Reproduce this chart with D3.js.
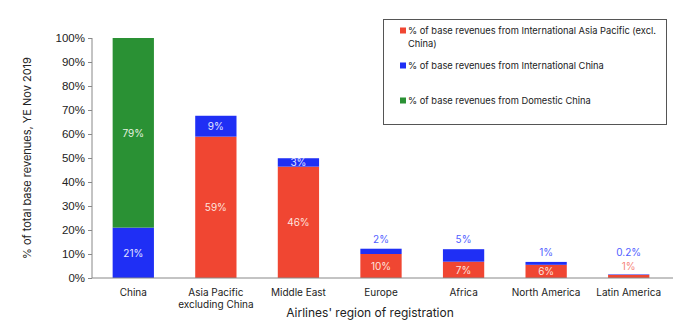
<!DOCTYPE html>
<html><head><meta charset="utf-8">
<script src="https://cdn.jsdelivr.net/npm/d3@7"></script>
<style>body{margin:0;background:#fff}svg{font-family:Inter,"Noto Sans",sans-serif}</style>
</head><body><svg id="c" width="680" height="323"></svg>
<script>
const categories = ["China", "Asia Pacific|excluding China", "Middle East", "Europe", "Africa", "North America", "Latin America"];
const intlAsiaPacific = [0, 58.9, 46.4, 10, 6.8, 5.5, 1.3];
const intlChina = [21, 8.7, 3.5, 2.2, 5.2, 1.2, 0.2];
const domesticChina = [79, 0, 0, 0, 0, 0, 0];
const labelsAP = ["", "59%", "46%", "10%", "7%", "6%", "1%"];
const labelsIC = ["21%", "9%", "3%", "2%", "5%", "1%", "0.2%"];
const labelsDC = ["79%", "", "", "", "", "", ""];
const yTicks = [0,10,20,30,40,50,60,70,80,90,100];
const legendLabels = ["% of base revenues from International Asia Pacific (excl.|China)", "% of base revenues from International China", "% of base revenues from Domestic China"];

const colors = {ap:"#f04632", ic:"#1f2ff5", dc:"#2a9134"};
const svg = d3.select("#c");
const L = 92, R = 670, T = 38, B = 278;
const x = d3.scaleBand().domain(categories).range([L, R]).paddingInner(0.5).paddingOuter(0.25);
const y = d3.scaleLinear().domain([0, 100]).range([B, T]);

const data = categories.map((c, i) => ({cat: c, ap: intlAsiaPacific[i], ic: intlChina[i], dc: domesticChina[i], i}));
const stack = d3.stack().keys(["ap", "ic", "dc"])(data);
const colorOf = {ap: colors.ap, ic: colors.ic, dc: colors.dc};

svg.append("g").selectAll("g").data(stack).join("g")
  .attr("fill", d => colorOf[d.key])
  .selectAll("rect").data(d => d).join("rect")
  .attr("x", d => x(d.data.cat)).attr("width", x.bandwidth())
  .attr("y", d => y(d[1])).attr("height", d => y(d[0]) - y(d[1]));

// axes
const yAxis = d3.axisLeft(y).tickValues(yTicks).tickFormat(d => d + "%").tickSize(4);
const gy = svg.append("g").attr("transform", `translate(${L},0)`).call(yAxis);
gy.selectAll("text").attr("font-size", 11.5).attr("fill", "#222").attr("x", -7);
gy.selectAll("line,path").attr("stroke", "#888");
gy.select(".domain").attr("d", `M0,${T}V${B}`);

svg.append("line").attr("x1", L).attr("x2", 673).attr("y1", B).attr("y2", B).attr("stroke", "#888");

const xl = svg.append("g");
categories.forEach(c => {
  const parts = c.split("|");
  const t = xl.append("text").attr("x", x(c) + x.bandwidth()/2).attr("y", 296)
    .attr("text-anchor", "middle").attr("font-size", 10).attr("fill", "#222");
  parts.forEach((p, k) => t.append("tspan").attr("x", x(c) + x.bandwidth()/2).attr("dy", k ? 12 : 0).text(p));
});

svg.append("text").attr("x", 370).attr("y", 317).attr("text-anchor", "middle")
  .attr("font-size", 12).attr("fill", "#222").text("Airlines' region of registration");
svg.append("text").attr("transform", "translate(31,158) rotate(-90)").attr("text-anchor", "middle")
  .attr("font-size", 11).attr("fill", "#222").text("% of total base revenues, YE Nov 2019");

// value labels
const cx = c => x(c) + x.bandwidth()/2;
data.forEach(d => {
  const i = d.i;
  const small = d.ap < 4;
  const top = d.ap + d.ic;
  const outside = top < 15;
  if (labelsAP[i]) {
    if (!small) svg.append("text").attr("x", cx(d.cat)).attr("y", y(d.ap/2) + 4).attr("text-anchor","middle")
      .attr("font-size", 10).attr("fill", "#fde3de").text(labelsAP[i]);
    else svg.append("text").attr("x", cx(d.cat)).attr("y", y(d.ap) - 5).attr("text-anchor","middle")
      .attr("font-size", 10).attr("fill", "#f5857a").text(labelsAP[i]);
  }
  if (labelsIC[i]) {
    if (!outside) svg.append("text").attr("x", cx(d.cat)).attr("y", y(d.ap + d.ic/2) + 4).attr("text-anchor","middle")
      .attr("font-size", 10).attr("fill", "#e2e5ff").text(labelsIC[i]);
    else svg.append("text").attr("x", cx(d.cat)).attr("y", y(top) - (small ? 18 : 6)).attr("text-anchor","middle")
      .attr("font-size", 10).attr("fill", "#5060ff").text(labelsIC[i]);
  }
  if (labelsDC[i]) svg.append("text").attr("x", cx(d.cat)).attr("y", y(d.ap + d.ic + d.dc/2) + 4).attr("text-anchor","middle")
      .attr("font-size", 10).attr("fill", "#e6f2e0").text(labelsDC[i]);
});
// legend
const lg = svg.append("g");
lg.append("rect").attr("x", 383.5).attr("y", 19.5).attr("width", 283).attr("height", 105)
  .attr("fill", "#fff").attr("stroke", "#555").attr("stroke-width", 1);
const lc = [colors.ap, colors.ic, colors.dc];
const ly = [34, 69, 104];
legendLabels.forEach((t, k) => {
  lg.append("rect").attr("x", 400).attr("y", ly[k] - 6.5).attr("width", 6).attr("height", 6).attr("fill", lc[k]);
  const tx = lg.append("text").attr("x", 408).attr("y", ly[k]).attr("font-size", 9.3).attr("fill", "#222");
  t.split("|").forEach((p, j) => tx.append("tspan").attr("x", 408).attr("dy", j ? 13 : 0).text(p));
});
</script></body></html>
